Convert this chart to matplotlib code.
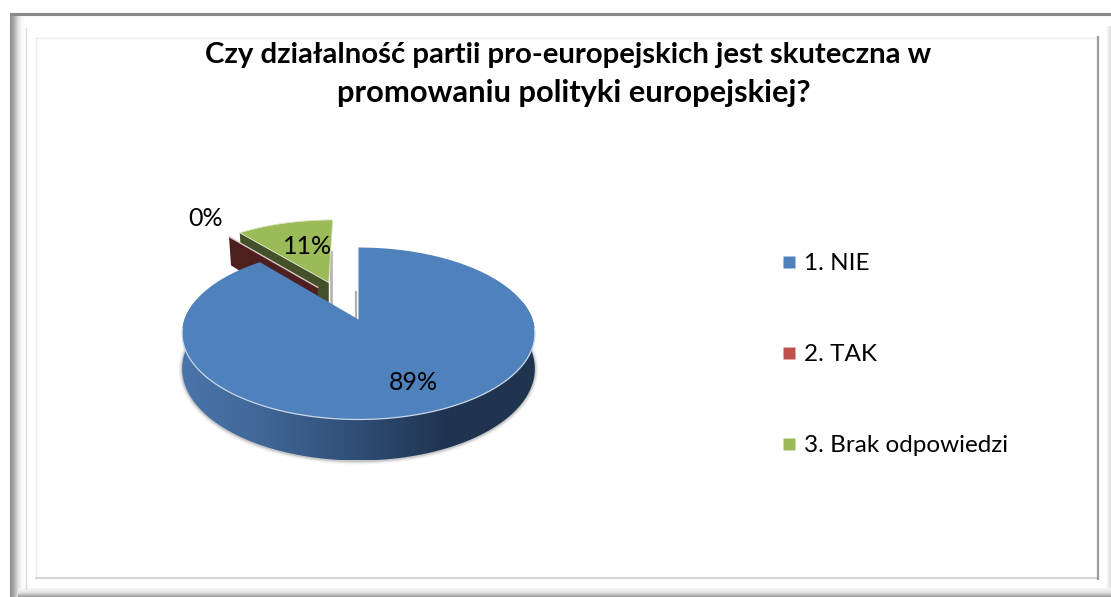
import numpy as np
import matplotlib
matplotlib.use("Agg")
import matplotlib.pyplot as plt
from matplotlib.colors import LinearSegmentedColormap
from matplotlib.lines import Line2D
from matplotlib.patches import Polygon

title_lines = ["Czy działalność partii pro-europejskich jest skuteczna w",
               "promowaniu polityki europejskiej?"]
labels = ["1. NIE", "2. TAK", "3. Brak odpowiedzi"]
values = [89, 0, 11]
colors = ["#4f81bd", "#c0504d", "#9bbb59"]
side_colors = ["#2f4d75", "#4d1f1e", "#43502a"]
# explosion of each slice, in disc radii (right, far)
explode = [(0, 0), (-0.25, 0.41), (-0.184, 0.476)]

plt.rcParams["font.family"] = ["Lato", "DejaVu Sans"]

W, H = 1111, 597
fig = plt.figure(figsize=(W / 100, H / 100), dpi=100)
ax = fig.add_axes([0, 0, 1, 1])
ax.set_xlim(0, W)
ax.set_ylim(H, 0)
ax.axis("off")

# pie seen in perspective
CX, CY = 358.5, 319.5
SX, SY = 174, 83.7
K = 0.163
DEPTH = 34.3


def project(x, y):
    d = 1 + K * y
    return CX + SX * x / d, CY - SY * y / d


def drop(y):
    return DEPTH / (1 + K * y)


def band(x0, x1, y0, y1, stops, z=1):
    # horizontal gradient rectangle for the picture frame
    cmap = LinearSegmentedColormap.from_list("b", stops)
    ax.imshow(np.linspace(0, 1, 64)[None, :], extent=[x0, x1, y1, y0], cmap=cmap,
              aspect="auto", zorder=z, vmin=0, vmax=1)


# frame
band(10, 25, 13, 597, ["#8c8c8c", "#a8a8a8", "#d8d8d8", "#f6f6f6", "#ffffff"])
band(1106, 1111, 26, 597, ["#ffffff", "#dcdcdc"])
grad = np.linspace(0, 1, 32)[:, None]
cm = LinearSegmentedColormap.from_list("bot", ["#f6f6f6", "#e4e4e4", "#9a9a9a"])
ax.imshow(grad, extent=[18, 1111, 597, 588], cmap=cm, aspect="auto", zorder=2)
ax.plot([10, 1111], [14, 14], color="#8a8a8a", lw=2.2, zorder=3, solid_capstyle="butt")
ax.plot([25.5, 25.5], [28, 588], color="#d9d9d9", lw=1, zorder=3)
ax.plot([35.5, 35.5, 1098], [578, 37.5, 37.5], color="#eeeeee", lw=1, zorder=3)
ax.plot([35.5, 1098], [578, 578], color="#d4d4d4", lw=1.4, zorder=3)
ax.plot([1098, 1098], [37, 579], color="#9c9c9c", lw=1.6, zorder=3)

# slice angles from the values, clockwise from the top, first slice first
shares = np.array(values) / sum(values) * 2 * np.pi
ends = np.cumsum(shares)
starts = ends - shares


def slice_top(i):
    dx, dy = explode[i]
    t = np.linspace(starts[i], ends[i], 200)
    x = np.r_[dx, dx + np.sin(t)]
    y = np.r_[dy, dy + np.cos(t)]
    return x, y


# exploded slices first, green then red, blue goes over them
for i in [2, 1]:
    dx, dy = explode[i]
    x, y = slice_top(i)
    t = starts[i]
    ex, ey = dx + np.sin(t), dy + np.cos(t)
    ax0, ay0 = project(dx, dy)
    ax1, ay1 = project(ex, ey)
    wall = [(ax0, ay0), (ax1, ay1), (ax1 + 2, ay1 + drop(ey)), (ax0, ay0 + drop(dy))]
    ax.add_patch(Polygon(wall, fc=side_colors[i], ec="none", zorder=4))
    if shares[i] > 0:
        # right hand wall shows as a thin grey sliver
        fx, fy = project(dx, dy)
        gx, gy = project(dx + np.sin(ends[i]), dy + np.cos(ends[i]))
        ax.plot([fx + 2, fx + 2], [gy + 32, fy + 22], color="#b5b5b5", lw=2, zorder=3.5)
        px, py = project(x, y)
        ax.add_patch(Polygon(np.c_[px, py], fc=colors[i], ec="#dfe8cc", lw=0.6, zorder=5))
    else:
        ax.plot([ax0, ax1], [ay0, ay1], color="#d8c8c8", lw=1.0, zorder=5)

# blue rim, with a soft shadow and left-to-right shading
t = np.linspace(np.pi / 2 - 0.22, 3 * np.pi / 2 + 0.22, 400)
rx, ry = np.sin(t), np.cos(t)
tx, ty = project(rx, ry)
by = ty + drop(ry)
rim = np.r_[np.c_[tx, ty], np.c_[tx, by][::-1]]
for lw, a in [(5, 0.10), (3, 0.18), (1.5, 0.3)]:
    ax.plot(tx, by + 0.5, color="#8a8a8a", lw=lw, alpha=a, zorder=5.5)
poly = Polygon(rim, fc="none", ec="none", zorder=6)
ax.add_patch(poly)
shade = LinearSegmentedColormap.from_list(
    "rim", [(0, "#4a75ab"), (0.25, "#3f6594"), (0.5, "#2f4d75"), (0.75, "#1f3451"), (1, "#20344f")]
)
im = ax.imshow(np.linspace(0, 1, 256)[None, :], extent=[tx.min(), tx.max(), by.max(), ty.min()],
               cmap=shade, aspect="auto", zorder=6)
im.set_clip_path(poly)

# grey sliver of the cut face at the notch
nx, ny = project(0, 0)
ax.plot([nx - 3, nx - 3], [ny - 28, ny - 1], color="#b0b0b0", lw=1.6, zorder=3.5)

x, y = slice_top(0)
px, py = project(x, y)
ax.add_patch(Polygon(np.c_[px, py], fc=colors[0], ec="none", zorder=7))
# light edge along the front of the top face
t = np.linspace(np.pi / 2 + 0.1, 3 * np.pi / 2 - 0.1, 300)
ex, ey = project(np.sin(t), np.cos(t))
ax.plot(ex, ey, color="#c9d6e6", lw=0.9, zorder=8)

# data labels
label_pos = [(413, 382), (205.5, 218), (307.5, 246.5)]
for v, (lx, ly) in zip(values, label_pos):
    ax.text(lx, ly, f"{v}%", fontsize=18, color="black", ha="center", va="center", zorder=10)

# the two title lines are set apart, their widths differ from the original face
ax.text(568, 55, title_lines[0], fontsize=21.2, fontweight="bold", ha="center", va="center",
        color="black", zorder=10)
ax.text(574, 93, title_lines[1], fontsize=22.2, fontweight="bold", ha="center", va="center",
        color="black", zorder=10)

handles = [Line2D([], [], marker="s", ls="none", ms=8.8, mfc=c, mec="none") for c in colors]
ax.legend(handles, labels, loc="upper left", bbox_to_anchor=(774 / W, 1 - 253 / H), frameon=False,
          fontsize=17.5, labelspacing=2.88, handletextpad=0.05, handlelength=1.2, borderpad=0,
          borderaxespad=0)

fig.savefig("out.png", dpi=100, facecolor="white")
